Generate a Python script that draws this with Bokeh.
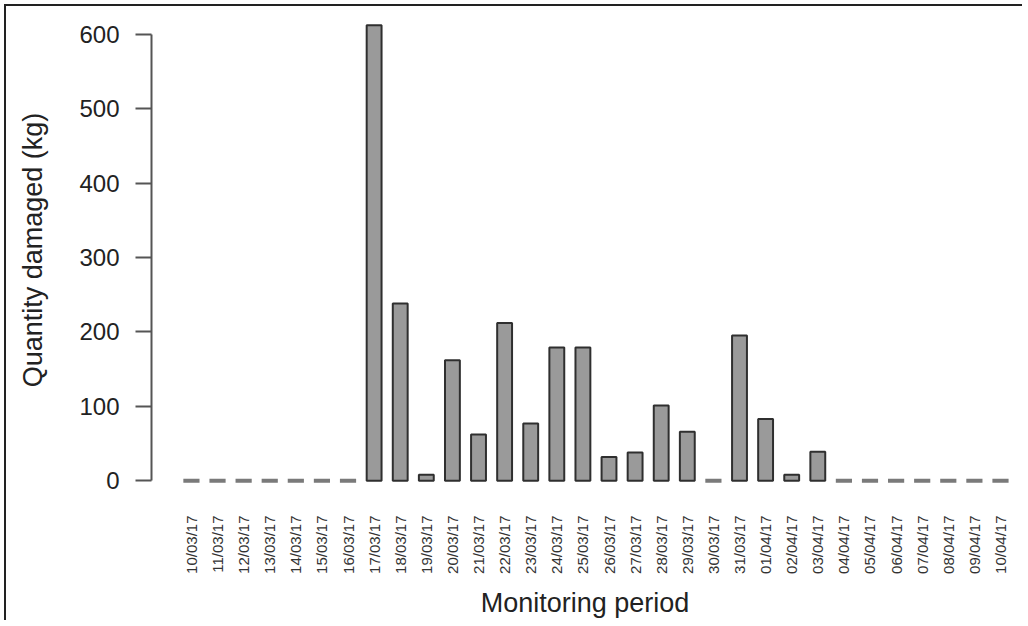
import math
from bokeh.plotting import figure
from bokeh.models import ColumnDataSource, Range1d, FixedTicker
from bokeh.embed import file_html
from bokeh.resources import INLINE

dates = ["10/03/17", "11/03/17", "12/03/17", "13/03/17", "14/03/17", "15/03/17",
         "16/03/17", "17/03/17", "18/03/17", "19/03/17", "20/03/17", "21/03/17",
         "22/03/17", "23/03/17", "24/03/17", "25/03/17", "26/03/17", "27/03/17",
         "28/03/17", "29/03/17", "30/03/17", "31/03/17", "01/04/17", "02/04/17",
         "03/04/17", "04/04/17", "05/04/17", "06/04/17", "07/04/17", "08/04/17",
         "09/04/17", "10/04/17"]
quantity = [0, 0, 0, 0, 0, 0, 0, 612, 238, 8, 162, 62, 212, 77, 179, 179, 32, 38,
            101, 66, 0, 195, 83, 8, 39, 0, 0, 0, 0, 0, 0, 0]
y_ticks = [0, 100, 200, 300, 400, 500, 600]

pos = list(range(len(dates)))
nz = [i for i in pos if quantity[i] > 0]
zr = [i for i in pos if quantity[i] == 0]
src_bars = ColumnDataSource(dict(x=nz, top=[quantity[i] for i in nz]))
src_zero = ColumnDataSource(dict(x=zr, top=[quantity[i] for i in zr]))

FONT = "Liberation Sans"

p = figure(frame_width=867, frame_height=469, output_backend="svg",
           toolbar_location=None,
           x_range=Range1d(-1.53, 31.69), y_range=Range1d(-5, 625),
           min_border_left=145, min_border_right=4, min_border_top=9,
           min_border_bottom=10, background_fill_color="white",
           border_fill_color="white")
p.outline_line_color = None
p.grid.visible = False
p.styles = {"border-left": "2px solid #222", "border-top": "2px solid #222",
            "margin-left": "4px", "margin-top": "4px"}

p.vbar(x="x", top="top", bottom=0, width=0.57, source=src_bars,
       fill_color="#9a9a9a", line_color="#2f2f2f", line_width=2)
p.vbar(x="x", top="top", bottom=0, width=0.62, source=src_zero,
       fill_color="#7a7a7a", line_color="#7a7a7a", line_width=4)

# y axis
ya = p.yaxis[0]
ya.ticker = FixedTicker(ticks=y_ticks)
ya.bounds = (0, 600)
ya.axis_label = "Quantity damaged (kg)"
ya.axis_label_text_font = FONT
ya.axis_label_text_font_size = "27px"
ya.axis_label_text_font_style = "normal"
ya.axis_label_text_color = "#222222"
ya.axis_label_standoff = 28
ya.major_label_text_font = FONT
ya.major_label_text_font_size = "24px"
ya.major_label_text_color = "#222222"
ya.major_label_standoff = 16
ya.major_tick_out = 16
ya.major_tick_in = 0
ya.minor_tick_line_color = None
ya.axis_line_color = "#555555"
ya.axis_line_width = 2
ya.major_tick_line_color = "#555555"
ya.major_tick_line_width = 2

# x axis
xa = p.xaxis[0]
xa.ticker = FixedTicker(ticks=pos)
xa.major_label_overrides = {i: d for i, d in zip(pos, dates)}
xa.major_label_orientation = math.pi / 2
xa.major_label_text_font = FONT
xa.major_label_text_font_size = "15px"
xa.major_label_text_color = "#333333"
xa.major_label_standoff = 31
xa.major_tick_out = 0
xa.major_tick_in = 0
xa.major_tick_line_color = None
xa.minor_tick_line_color = None
xa.axis_line_color = None
xa.axis_label = "Monitoring period"
xa.axis_label_text_font = FONT
xa.axis_label_text_font_size = "27px"
xa.axis_label_text_font_style = "normal"
xa.axis_label_text_color = "#222222"
xa.axis_label_standoff = 11

open("out.html", "w").write(file_html(p, INLINE))
